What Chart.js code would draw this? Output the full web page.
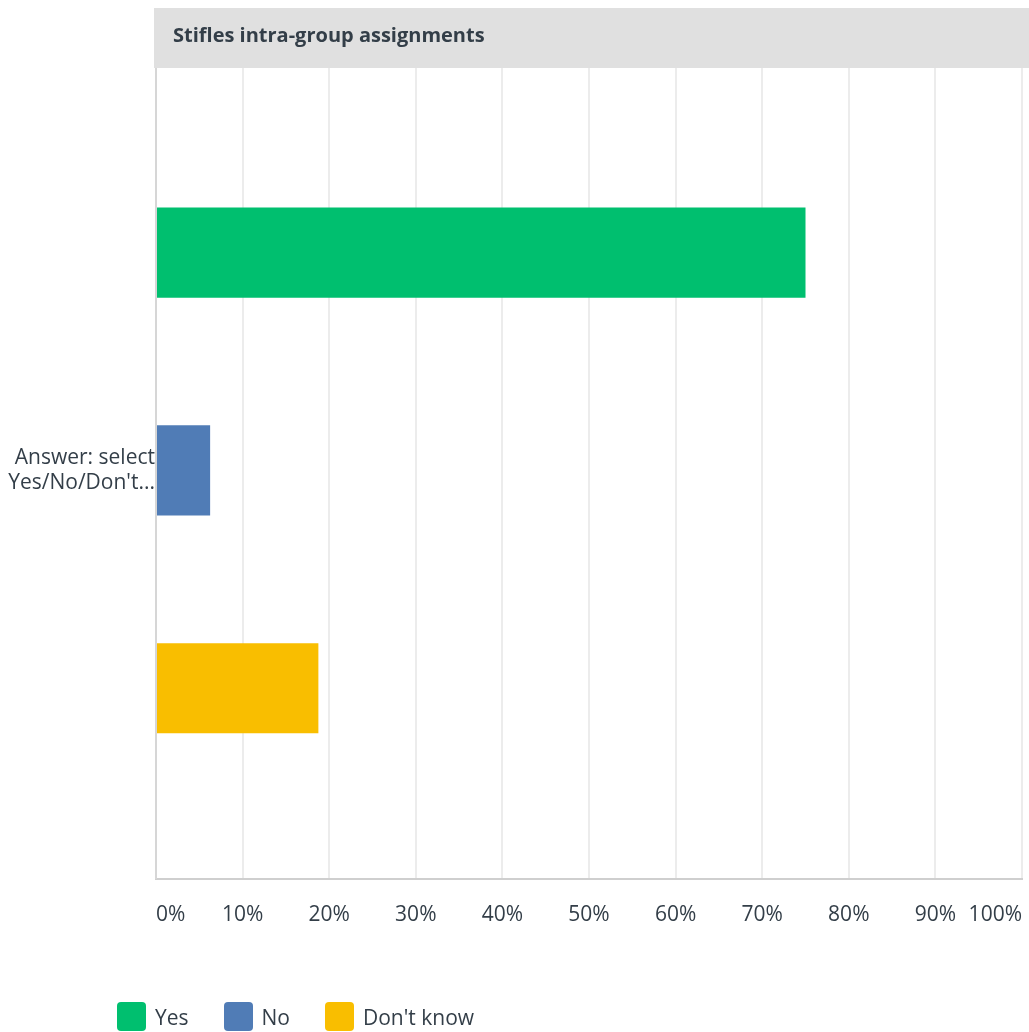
<!DOCTYPE html>
<html>
<head>
<meta charset="utf-8">
<script src="https://cdn.jsdelivr.net/npm/chart.js@4"></script>
<style>
  html, body { margin: 0; padding: 0; background: #fff; }
  #wrap { position: relative; width: 1029px; height: 1032px; }
  #legend {
    position: absolute; left: 117px; top: 1002px;
    display: flex; align-items: center;
    font-family: 'Open Sans', sans-serif; font-size: 21px; color: #333e48;
  }
  #legend .item { display: flex; align-items: center; margin-right: 35px; }
  #legend .box { width: 29px; height: 29px; border-radius: 4px; margin-right: 9px; }
</style>
</head>
<body>
<div id="wrap">
  <canvas id="chart" width="1029" height="1032"></canvas>
  <div id="legend"></div>
</div>
<script>
const categories = [["Answer: select", "Yes/No/Don't..."]];
const seriesNames = ['Yes', 'No', "Don't know"];
const yesValues = [75];
const noValues = [6.25];
const dontKnowValues = [18.75];
const tickValues = [0, 10, 20, 30, 40, 50, 60, 70, 80, 90, 100];
const chartTitle = 'Stifles intra-group assignments';

const seriesColors = ['#00bf6f', '#507cb6', '#f9be00'];
const textColor = '#333e48';

Chart.defaults.font.family = "'Open Sans', sans-serif";
Chart.defaults.color = textColor;

// grey header band, painted over the top of the grid before the bars
const headerBand = {
  id: 'headerBand',
  beforeDatasetsDraw(chart) {
    const { ctx, chartArea } = chart;
    ctx.save();
    ctx.fillStyle = '#e0e0e0';
    ctx.fillRect(chartArea.left - 2, 8, chart.width - chartArea.left + 2, 60);
    ctx.fillStyle = textColor;
    ctx.font = "bold 20px 'Open Sans', sans-serif";
    ctx.textBaseline = 'middle';
    ctx.fillText(chartTitle, chartArea.left + 17, 36);
    ctx.restore();
  }
};

const ctx = document.getElementById('chart').getContext('2d');
const chart = new Chart(ctx, {
  type: 'bar',
  data: {
    labels: categories,
    datasets: [
      { label: seriesNames[0], data: yesValues, backgroundColor: seriesColors[0] },
      { label: seriesNames[1], data: noValues, backgroundColor: seriesColors[1] },
      { label: seriesNames[2], data: dontKnowValues, backgroundColor: seriesColors[2] }
    ]
  },
  options: {
    indexAxis: 'y',
    responsive: false,
    animation: false,
    layout: { padding: { top: 62, right: 7, bottom: 80, left: 0 } },
    datasets: { bar: { categoryPercentage: 0.8, barPercentage: 0.414 } },
    plugins: {
      legend: { display: false },
      tooltip: { enabled: false }
    },
    scales: {
      x: {
        min: 0,
        max: 100,
        afterBuildTicks: scale => { scale.ticks = tickValues.map(v => ({ value: v })); },
        // labels are aligned inward, so no extra side room is needed
        afterFit: scale => { scale.paddingLeft = 0; scale.paddingRight = 0; },
        ticks: {
          align: 'inner',
          padding: 24,
          font: { size: 21 },
          color: textColor,
          callback: v => v + '%'
        },
        grid: { color: '#ececec', lineWidth: 2, drawTicks: false },
        border: { color: '#cfcfcf', width: 2 }
      },
      y: {
        afterFit: scale => { scale.width = 156; },
        ticks: { padding: 1, font: { size: 21 }, color: textColor },
        grid: { display: false, drawTicks: false },
        border: { display: true, color: '#d6d6d6', width: 2 }
      }
    }
  },
  plugins: [headerBand]
});

// html legend built from the datasets
const legendEl = document.getElementById('legend');
chart.data.datasets.forEach(ds => {
  const item = document.createElement('div');
  item.className = 'item';
  const box = document.createElement('span');
  box.className = 'box';
  box.style.background = ds.backgroundColor;
  const text = document.createElement('span');
  text.textContent = ds.label;
  item.appendChild(box);
  item.appendChild(text);
  legendEl.appendChild(item);
});
</script>
</body>
</html>
